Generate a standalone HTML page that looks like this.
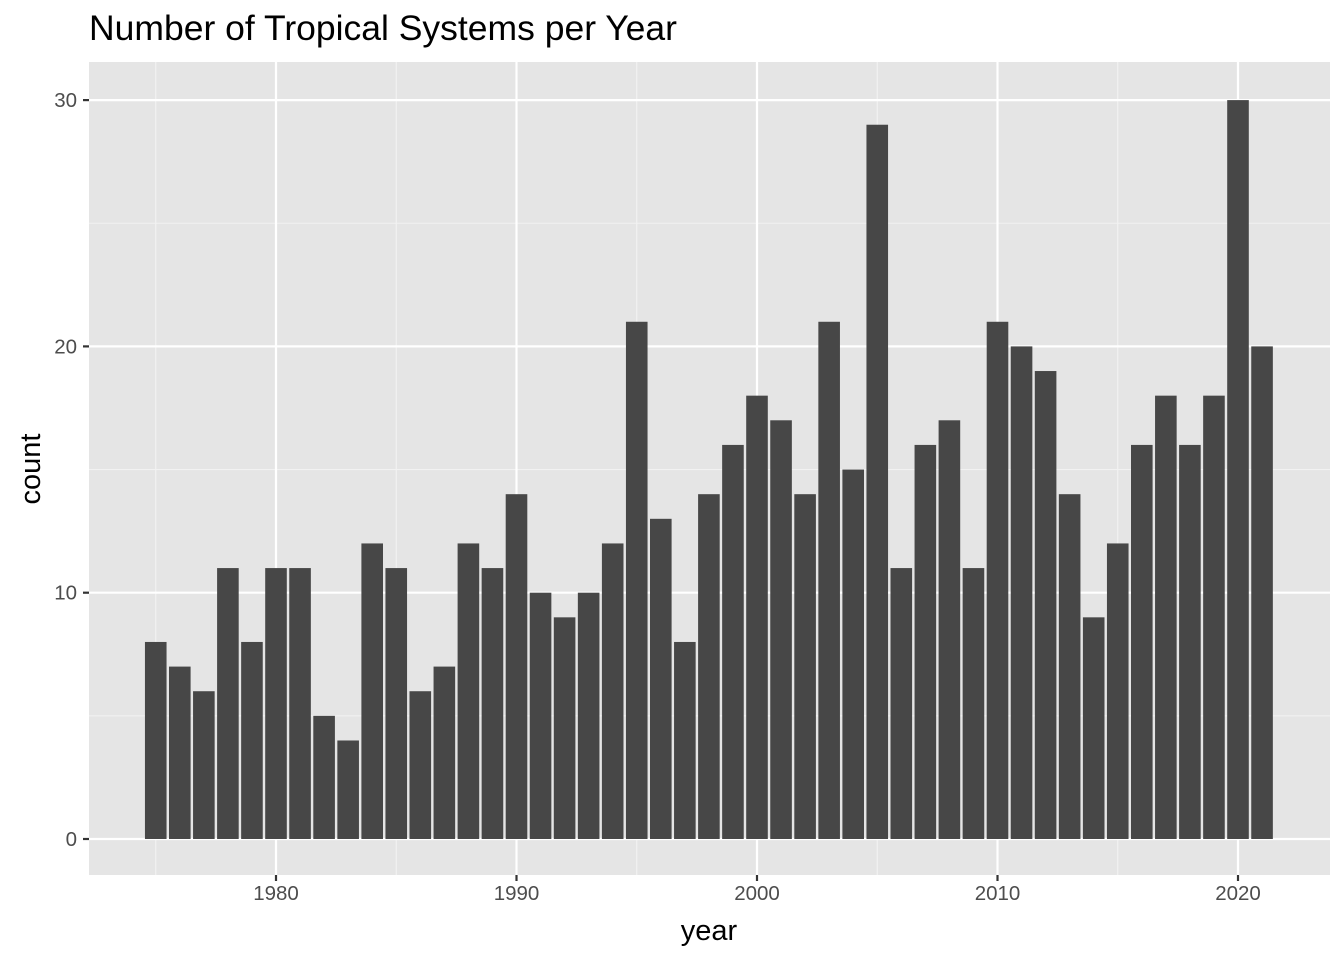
<!DOCTYPE html>
<html><head><meta charset="utf-8"><style>
html,body{margin:0;padding:0;background:#fff;}
svg{display:block;font-family:"Liberation Sans",Arial,sans-serif;}
</style></head><body>
<svg id="c" width="1344" height="960" viewBox="0 0 1344 960" xmlns="http://www.w3.org/2000/svg">
<rect width="1344" height="960" fill="#fff"/>
<text x="89" y="40" font-size="35.5" fill="#000">Number of Tropical Systems per Year</text>
<rect x="89" y="62" width="1241" height="813" fill="#e5e5e5"/>
<g id="grid"></g>
<g id="bars" fill="#474747"></g>
<g id="axes"></g>
<text x="709" y="940" font-size="29" text-anchor="middle" fill="#000">year</text>
<text transform="translate(40,469) rotate(-90)" font-size="29" text-anchor="middle" fill="#000">count</text>
</svg>
<script>
var ns="http://www.w3.org/2000/svg";
function el(p,t,a,txt){var e=document.createElementNS(ns,t);for(var k in a)e.setAttribute(k,a[k]);if(txt!==undefined)e.textContent=txt;document.getElementById(p).appendChild(e);}
var X=function(y){return 276+(y-1980)*24.05;};
var Y=function(v){return 839-v*24.63;};
[1975,1985,1995,2005,2015].forEach(function(y){el("grid","line",{x1:X(y),x2:X(y),y1:62,y2:875,stroke:"#f2f2f2","stroke-width":1.1});});
[5,15,25].forEach(function(v){el("grid","line",{x1:89,x2:1330,y1:Y(v),y2:Y(v),stroke:"#f2f2f2","stroke-width":1.1});});
[1980,1990,2000,2010,2020].forEach(function(y){el("grid","line",{x1:X(y),x2:X(y),y1:62,y2:875,stroke:"#fff","stroke-width":2.2});
el("axes","line",{x1:X(y),x2:X(y),y1:875,y2:881,stroke:"#333","stroke-width":2.2});
el("axes","text",{x:X(y),y:900,"font-size":20.5,"text-anchor":"middle",fill:"#4d4d4d"},String(y));});
[0,10,20,30].forEach(function(v){el("grid","line",{x1:89,x2:1330,y1:Y(v),y2:Y(v),stroke:"#fff","stroke-width":2.2});
el("axes","line",{x1:83,x2:89,y1:Y(v),y2:Y(v),stroke:"#333","stroke-width":2.2});
el("axes","text",{x:77,y:Y(v)+7,"font-size":20.5,"text-anchor":"end",fill:"#4d4d4d"},String(v));});
var c=[8,7,6,11,8,11,11,5,4,12,11,6,7,12,11,14,10,9,10,12,21,13,8,14,16,18,17,14,21,15,29,11,16,17,11,21,20,19,14,9,12,16,18,16,18,30,20];
c.forEach(function(v,i){var x=X(1975+i)-10.8;el("bars","rect",{x:x,y:Y(v),width:21.6,height:v*24.63});});
</script>
</body></html>
